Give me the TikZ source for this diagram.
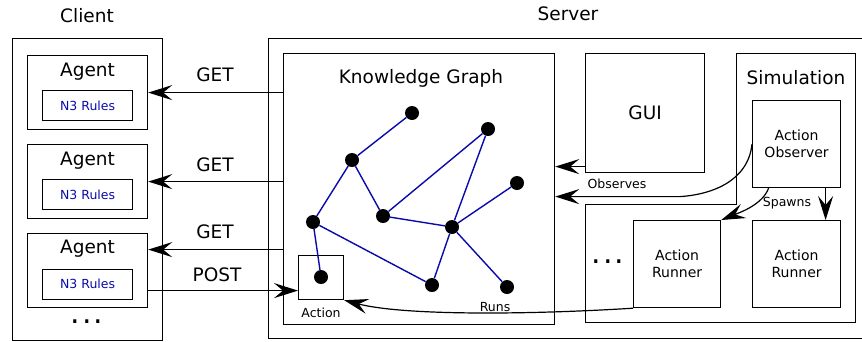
\documentclass[tikz,border=0pt]{standalone}
\usepackage{fontspec}
\setmainfont{DejaVu Sans}
\usetikzlibrary{arrows.meta,calc}
\definecolor{edgeblue}{RGB}{10,10,170}
\begin{document}
\begin{tikzpicture}[x=1pt,y=-1pt,
  box/.style={draw,line width=1.2pt,inner sep=0pt,anchor=north west},
  big/.style={inner sep=0pt,font=\fontsize{18.5}{22}\selectfont},
  mid/.style={inner sep=0pt,align=center,font=\fontsize{14}{17}\selectfont},
  small/.style={inner sep=0pt,font=\fontsize{12.5}{15}\selectfont},
  dots/.style={inner sep=0pt,font=\fontsize{30}{32}\selectfont},
  gdot/.style={circle,fill=black,inner sep=0pt,minimum size=14pt},
  edge/.style={draw=edgeblue,line width=1.4pt},
  arr/.style={line width=1.2pt,-{Stealth[length=24pt,width=15pt,inset=9pt]}}]
\useasboundingbox (0,0) rectangle (862,341);

% titles
\node[big] (tclient) at (87,15.5) {Client};
\node[big] (tserver) at (568,14) {Server};

% client side
\node[box,minimum width=150pt,minimum height=302pt] (client) at (12,38) {};
\node[box,minimum width=120pt,minimum height=74pt] (a1) at (27,55) {};
\node[box,minimum width=120pt,minimum height=74pt] (a2) at (27,144) {};
\node[box,minimum width=120pt,minimum height=74pt] (a3) at (27,233) {};
\node[big] (a1t) at ($(a1.north)+(0,16.5)$) {Agent};
\node[big] (a2t) at ($(a2.north)+(0,16.5)$) {Agent};
\node[big] (a3t) at ($(a3.north)+(0,16)$) {Agent};
\node[box,minimum width=90pt,minimum height=30pt] (r1) at (42,90) {};
\node[box,minimum width=90pt,minimum height=30pt] (r2) at (42,179) {};
\node[box,minimum width=90pt,minimum height=30pt] (r3) at (42,268.5) {};
\node[small,text=edgeblue] (r1t) at (r1.center) {N3 Rules};
\node[small,text=edgeblue] (r2t) at (r2.center) {N3 Rules};
\node[small,text=edgeblue] (r3t) at (r3.center) {N3 Rules};
\node[dots] (cdots) at (87,322) {.\kern2pt.\kern2pt.};

% server
\node[box,minimum width=640pt,minimum height=300pt] (server) at (268,38) {};
\node[box,minimum width=271pt,minimum height=271pt] (kg) at (283,53) {};
\node[big] (kgt) at (421,78) {Knowledge Graph};
\node[box,minimum width=119pt,minimum height=119pt] (gui) at (585,53) {};
\node[big] (guit) at (gui.center) {GUI};
\draw[line width=1.2pt,shift={(0.6,0.6)}] (736,53) -- (855,53) -- (855,322) -- (585,322) -- (585,204) -- (736,204) -- cycle;
\node[big] (simt) at (796,78) {Simulation};
\node[box,minimum width=88pt,minimum height=87pt] (obs) at (752,100) {};
\node[mid] (obst) at (obs.center) {Action\\Observer};
\node[box,minimum width=88pt,minimum height=87pt] (runR) at (752,220) {};
\node[mid] (runRt) at (runR.center) {Action\\Runner};
\node[box,minimum width=87pt,minimum height=87pt] (runL) at (633,220) {};
\node[mid] (runLt) at (runL.center) {Action\\Runner};
\node[dots] (sdots) at (608,262) {.\kern2pt.\kern2pt.};

% action box
\node[box,minimum width=45pt,minimum height=44pt] (act) at (298,255) {};
\node[small] (actt) at (321,313) {Action};

% graph
\node[gdot] (g1) at (412,113) {};
\node[gdot] (g2) at (488,129) {};
\node[gdot] (g3) at (352,160) {};
\node[gdot] (g4) at (517,183) {};
\node[gdot] (g5) at (383,216) {};
\node[gdot] (g6) at (313,222) {};
\node[gdot] (g7) at (452,227) {};
\node[gdot] (g8) at (321,277) {};
\node[gdot] (g9) at (432,285) {};
\node[gdot] (g10) at (507,287) {};
\draw[edge] (g3) -- (g1);
\draw[edge] (g3) -- (g6);
\draw[edge] (g3) -- (g5);
\draw[edge] (g5) -- (g2);
\draw[edge] (g5) -- (g7);
\draw[edge] (g2) -- (g7);
\draw[edge] (g7) -- (g4);
\draw[edge] (g7) -- (g9);
\draw[edge] (g7) -- (g10);
\draw[edge] (g6) -- (g9);
\draw[edge] (g6) -- (g8);

% GET / POST
\draw[arr] (kg.west |- a1.east) -- (a1.east);
\node[big] (get1) at (215,75) {GET};
\draw[arr] (kg.west |- a2.east) -- (a2.east);
\node[big] (get2) at (215,165) {GET};
\coordinate (a3g) at ([yshift=21pt]a3.east);
\draw[arr] (kg.west |- a3g) -- (a3g);
\node[big] (get3) at (215,232) {GET};
\coordinate (a3p) at ([yshift=-20pt]a3.east);
\draw[arr] (a3p) -- (a3p -| act.west);
\node[big] (post) at (217,274.5) {POST};

% GUI / observes
\coordinate (gg) at ([yshift=-53.5pt]gui.west);
\draw[arr] (gg) -- (gg -| kg.east);
\coordinate (ko) at ([yshift=-7.5pt]kg.east);
\draw[arr] (obs.west) .. controls +(-4,38) and +(30,-2) .. ($(ko)+(125,0)$) -- (ko);
\node[small] (obsl) at (617,184) {Observes};

% spawns
\draw[arr] ([xshift=-28pt]obs.south) .. controls +(-6,16) and +(20,-8) .. (runL.north east);
\draw[arr] ([xshift=29pt]obs.south) -- ([xshift=29pt]runR.north);
\node[small] (spl) at (787,203) {Spawns};

% runs
\draw[arr] (runL.south west) .. controls +(-113,7) and +(57,15) .. (act.south east);
\node[small] (runsl) at (495,307) {Runs};
\end{tikzpicture}
\end{document}
